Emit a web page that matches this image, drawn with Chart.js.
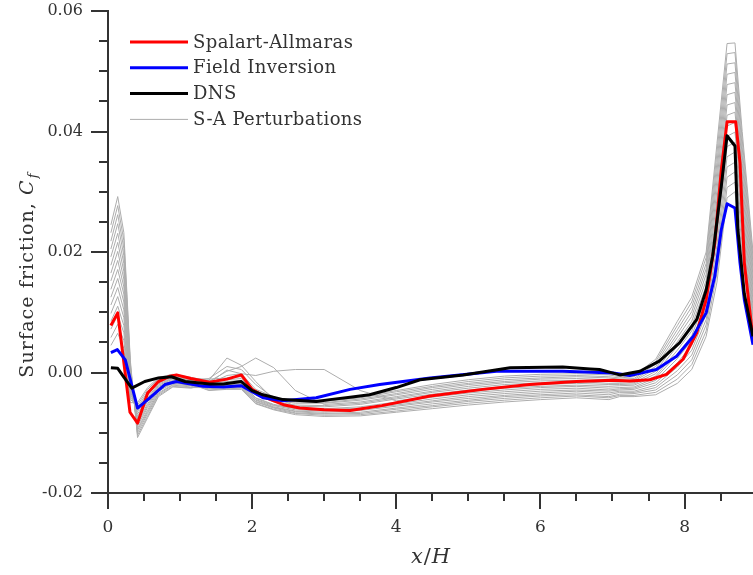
<!DOCTYPE html>
<html>
<head>
<meta charset="utf-8">
<script src="https://cdn.jsdelivr.net/npm/chart.js@4.4.1/dist/chart.umd.min.js"></script>
<style>
html,body{margin:0;padding:0;background:#fff;}
canvas{display:block;}
</style>
</head>
<body>
<canvas id="c" width="753" height="575" style="width:753px;height:575px"></canvas>
<script>
// ---------- tick values / labels ----------
const xMajorTicks = [0, 2, 4, 6, 8];
const xTickLabels = ['0', '2', '4', '6', '8'];
const xMinorTicks = [0.5, 1, 1.5, 2.5, 3, 3.5, 4.5, 5, 5.5, 6.5, 7, 7.5, 8.5];
const yMajorTicks = [-0.02, 0, 0.02, 0.04, 0.06];
const yTickLabels = ['-0.02', '0.00', '0.02', '0.04', '0.06'];
const yMinorTicks = [-0.015, -0.01, -0.005, 0.005, 0.01, 0.015, 0.025, 0.03, 0.035, 0.045, 0.05, 0.055];

// ---------- Spalart-Allmaras ----------
const saX = [0.04, 0.135, 0.305, 0.41, 0.55, 0.70, 0.86, 0.95, 1.15, 1.41, 1.65, 1.85, 2.0, 2.2, 2.45, 2.66, 3.0, 3.36, 3.8, 4.47, 5.2, 5.85, 6.5, 7.0, 7.24, 7.52, 7.75, 7.98, 8.17, 8.30, 8.42, 8.51, 8.59, 8.71, 8.77, 8.83, 8.95];
const saY = [0.0078, 0.0099, -0.0066, -0.0084, -0.0034, -0.0015, -0.0006, -0.0004, -0.0010, -0.0016, -0.0011, -0.0004, -0.0028, -0.0042, -0.0054, -0.0059, -0.0062, -0.0063, -0.0055, -0.0039, -0.0028, -0.0020, -0.0015, -0.0013, -0.0014, -0.0012, -0.0003, 0.0022, 0.0066, 0.0121, 0.0215, 0.0336, 0.0416, 0.0416, 0.0348, 0.0182, 0.0055];

// ---------- Field Inversion ----------
const fiX = [0.04, 0.13, 0.24, 0.41, 0.58, 0.79, 0.95, 1.32, 1.6, 1.85, 2.0, 2.15, 2.43, 2.89, 3.36, 3.77, 4.47, 5.39, 6.31, 6.82, 7.01, 7.24, 7.61, 7.89, 8.12, 8.30, 8.42, 8.51, 8.59, 8.70, 8.77, 8.83, 8.95];
const fiY = [0.0033, 0.0038, 0.0021, -0.0059, -0.0042, -0.0020, -0.0015, -0.0023, -0.0024, -0.0022, -0.0032, -0.0042, -0.0047, -0.0042, -0.0028, -0.0020, -0.0009, 0.0002, 0.0002, 0.0000, -0.0001, -0.0005, 0.0005, 0.0027, 0.0060, 0.0099, 0.0160, 0.0237, 0.0280, 0.0273, 0.0182, 0.0121, 0.0046];

// ---------- DNS ----------
const dnsX = [0.04, 0.135, 0.21, 0.33, 0.51, 0.70, 0.88, 1.07, 1.41, 1.6, 1.85, 2.0, 2.15, 2.43, 2.89, 3.08, 3.36, 3.63, 4.0, 4.33, 4.93, 5.58, 6.31, 6.69, 6.82, 7.01, 7.10, 7.38, 7.65, 7.93, 8.17, 8.30, 8.39, 8.51, 8.59, 8.70, 8.74, 8.83, 8.95];
const dnsY = [0.0008, 0.0007, -0.0006, -0.0026, -0.0015, -0.0009, -0.0007, -0.0015, -0.0019, -0.0019, -0.0015, -0.0030, -0.0037, -0.0045, -0.0048, -0.0045, -0.0041, -0.0037, -0.0025, -0.0012, -0.0004, 0.0008, 0.0009, 0.0006, 0.0005, -0.0001, -0.0004, 0.0002, 0.0019, 0.0049, 0.0088, 0.0137, 0.0193, 0.0309, 0.0393, 0.0376, 0.0237, 0.0130, 0.0060];

// ---------- S-A perturbations (shared x grid) ----------
const pertX = [0.04, 0.135, 0.22, 0.31, 0.41, 0.55, 0.7, 0.9, 1.15, 1.4, 1.65, 1.85, 2.05, 2.3, 2.6, 3.0, 3.5, 4.0, 4.5, 5.0, 5.5, 6.0, 6.5, 6.95, 7.1, 7.3, 7.6, 7.9, 8.1, 8.3, 8.45, 8.59, 8.70, 8.8, 8.95];
const pert01 = [0.0045, 0.0065, 0.0040, -0.0050, -0.0050, -0.0025, -0.0008, -0.0003, -0.0008, -0.0014, -0.0012, -0.0010, -0.0034, -0.0046, -0.0051, -0.0051, -0.0046, -0.0037, -0.0028, -0.0020, -0.0015, -0.0011, -0.0010, -0.0012, -0.0014, -0.0012, 0.0010, 0.0064, 0.0101, 0.0172, 0.0334, 0.0495, 0.0498, 0.0360, 0.0170];
const pert02 = [0.0058, 0.0080, 0.0053, -0.0045, -0.0054, -0.0028, -0.0010, -0.0004, -0.0009, -0.0021, -0.0019, -0.0017, -0.0042, -0.0053, -0.0059, -0.0060, -0.0057, -0.0049, -0.0041, -0.0034, -0.0029, -0.0025, -0.0023, -0.0026, -0.0025, -0.0024, -0.0009, 0.0030, 0.0061, 0.0125, 0.0257, 0.0409, 0.0415, 0.0293, 0.0120];
const pert03 = [0.0072, 0.0095, 0.0066, -0.0041, -0.0058, -0.0032, -0.0012, -0.0006, -0.0010, -0.0011, -0.0009, -0.0007, -0.0031, -0.0043, -0.0048, -0.0048, -0.0042, -0.0032, -0.0023, -0.0015, -0.0009, -0.0006, -0.0005, -0.0007, -0.0009, -0.0007, 0.0018, 0.0078, 0.0117, 0.0191, 0.0365, 0.0529, 0.0531, 0.0387, 0.0190];
const pert04 = [0.0085, 0.0110, 0.0078, -0.0036, -0.0062, -0.0035, -0.0014, -0.0007, -0.0012, -0.0026, -0.0024, -0.0023, -0.0048, -0.0058, -0.0065, -0.0068, -0.0066, -0.0059, -0.0052, -0.0046, -0.0040, -0.0037, -0.0034, -0.0037, -0.0033, -0.0033, -0.0025, 0.0003, 0.0029, 0.0088, 0.0196, 0.0341, 0.0349, 0.0240, 0.0080];
const pert05 = [0.0098, 0.0126, 0.0091, -0.0031, -0.0065, -0.0038, -0.0017, -0.0009, -0.0013, -0.0017, -0.0015, -0.0013, -0.0037, -0.0049, -0.0054, -0.0055, -0.0051, -0.0042, -0.0033, -0.0026, -0.0020, -0.0017, -0.0015, -0.0018, -0.0018, -0.0017, 0.0002, 0.0051, 0.0085, 0.0153, 0.0303, 0.0461, 0.0465, 0.0333, 0.0150];
const pert06 = [0.0112, 0.0141, 0.0104, -0.0027, -0.0069, -0.0042, -0.0019, -0.0010, -0.0014, -0.0029, -0.0027, -0.0026, -0.0051, -0.0061, -0.0068, -0.0071, -0.0070, -0.0064, -0.0057, -0.0051, -0.0046, -0.0042, -0.0039, -0.0042, -0.0038, -0.0038, -0.0033, -0.0011, 0.0013, 0.0069, 0.0165, 0.0307, 0.0316, 0.0213, 0.0060];
const pert07 = [0.0125, 0.0156, 0.0117, -0.0022, -0.0073, -0.0045, -0.0021, -0.0011, -0.0015, -0.0010, 0.0010, 0.0005, -0.0020, -0.0042, -0.0046, -0.0046, -0.0040, -0.0030, -0.0020, -0.0012, -0.0006, -0.0003, -0.0002, -0.0004, -0.0007, -0.0005, 0.0022, 0.0085, 0.0125, 0.0200, 0.0380, 0.0546, 0.0547, 0.0400, 0.0200];
const pert08 = [0.0138, 0.0171, 0.0130, -0.0017, -0.0077, -0.0048, -0.0023, -0.0013, -0.0016, -0.0023, -0.0021, -0.0020, -0.0045, -0.0055, -0.0062, -0.0064, -0.0061, -0.0054, -0.0047, -0.0040, -0.0035, -0.0031, -0.0029, -0.0031, -0.0029, -0.0028, -0.0017, 0.0016, 0.0045, 0.0107, 0.0227, 0.0375, 0.0382, 0.0267, 0.0100];
const pert09 = [0.0152, 0.0186, 0.0142, -0.0013, -0.0081, -0.0052, -0.0025, -0.0014, -0.0018, -0.0018, 0.0004, -0.0002, -0.0028, -0.0040, -0.0056, -0.0057, -0.0053, -0.0044, -0.0036, -0.0029, -0.0023, -0.0020, -0.0018, -0.0020, -0.0020, -0.0019, -0.0002, 0.0044, 0.0077, 0.0144, 0.0288, 0.0444, 0.0448, 0.0320, 0.0140];
const pert10 = [0.0165, 0.0201, 0.0155, -0.0008, -0.0085, -0.0055, -0.0027, -0.0016, -0.0019, -0.0030, -0.0028, -0.0028, -0.0052, -0.0062, -0.0070, -0.0073, -0.0072, -0.0066, -0.0060, -0.0054, -0.0049, -0.0045, -0.0042, -0.0045, -0.0040, -0.0040, -0.0037, -0.0018, 0.0005, 0.0060, 0.0150, 0.0290, 0.0300, 0.0200, 0.0050];
const pert11 = [0.0178, 0.0216, 0.0168, -0.0003, -0.0089, -0.0058, -0.0029, -0.0017, -0.0020, -0.0013, 0.0024, 0.0012, -0.0015, -0.0045, -0.0049, -0.0050, -0.0044, -0.0035, -0.0025, -0.0018, -0.0012, -0.0009, -0.0007, -0.0009, -0.0011, -0.0010, 0.0014, 0.0071, 0.0109, 0.0181, 0.0349, 0.0512, 0.0514, 0.0373, 0.0180];
const pert12 = [0.0192, 0.0231, 0.0181, 0.0001, -0.0093, -0.0062, -0.0031, -0.0018, -0.0021, -0.0022, -0.0020, -0.0019, -0.0043, -0.0054, -0.0060, -0.0062, -0.0059, -0.0052, -0.0044, -0.0037, -0.0032, -0.0028, -0.0026, -0.0029, -0.0027, -0.0026, -0.0013, 0.0023, 0.0053, 0.0116, 0.0242, 0.0392, 0.0399, 0.0280, 0.0110];
const pert13 = [0.0205, 0.0247, 0.0194, 0.0006, -0.0096, -0.0065, -0.0034, -0.0020, -0.0022, -0.0027, -0.0025, -0.0025, -0.0049, -0.0059, -0.0067, -0.0069, -0.0068, -0.0061, -0.0055, -0.0048, -0.0043, -0.0039, -0.0037, -0.0040, -0.0036, -0.0035, -0.0029, -0.0004, 0.0021, 0.0079, 0.0181, 0.0324, 0.0333, 0.0227, 0.0070];
const pert14 = [0.0218, 0.0262, 0.0206, 0.0011, -0.0100, -0.0068, -0.0036, -0.0021, -0.0024, -0.0015, 0.0002, 0.0010, 0.0024, 0.0008, -0.0030, -0.0053, -0.0049, -0.0040, -0.0031, -0.0023, -0.0017, -0.0014, -0.0013, -0.0015, -0.0016, -0.0014, 0.0006, 0.0058, 0.0093, 0.0163, 0.0319, 0.0478, 0.0481, 0.0347, 0.0160];
const pert15 = [0.0232, 0.0277, 0.0219, 0.0015, -0.0104, -0.0072, -0.0038, -0.0023, -0.0025, -0.0025, -0.0023, -0.0022, -0.0046, -0.0057, -0.0064, -0.0066, -0.0063, -0.0056, -0.0049, -0.0043, -0.0038, -0.0034, -0.0031, -0.0034, -0.0031, -0.0031, -0.0021, 0.0009, 0.0037, 0.0097, 0.0211, 0.0358, 0.0366, 0.0253, 0.0090];
const pert16 = [0.0245, 0.0292, 0.0232, 0.0020, -0.0108, -0.0075, -0.0040, -0.0024, -0.0026, -0.0019, -0.0005, -0.0002, -0.0005, 0.0002, 0.0005, 0.0005, -0.0030, -0.0047, -0.0039, -0.0032, -0.0026, -0.0023, -0.0021, -0.0023, -0.0022, -0.0021, -0.0006, 0.0037, 0.0069, 0.0135, 0.0273, 0.0427, 0.0432, 0.0307, 0.0130];
const perturbations = [pert01, pert02, pert03, pert04, pert05, pert06, pert07, pert08, pert09, pert10, pert11, pert12, pert13, pert14, pert15, pert16];

const seriesNames = ['Spalart-Allmaras', 'Field Inversion', 'DNS', 'S-A Perturbations'];
const axisFont = 'DejaVu Serif';
const textColor = '#333333';

function pts(xs, ys) { return xs.map((x, i) => ({ x: x, y: ys[i] })); }

const datasets = [];
datasets.push({ label: seriesNames[0], data: pts(saX, saY), borderColor: '#ff0000', borderWidth: 3, order: 2 });
datasets.push({ label: seriesNames[1], data: pts(fiX, fiY), borderColor: '#0000ff', borderWidth: 3, order: 1 });
datasets.push({ label: seriesNames[2], data: pts(dnsX, dnsY), borderColor: '#000000', borderWidth: 3, order: 0 });
perturbations.forEach((p, i) => {
  datasets.push({ label: seriesNames[3], data: pts(pertX, p), borderColor: '#adadad', borderWidth: 1, order: 10 });
});

const extras = {
  id: 'extras',
  afterDraw(chart) {
    const ctx = chart.ctx, xs = chart.scales.x, ys = chart.scales.y, ca = chart.chartArea;
    ctx.save();
    // major + minor ticks (outward)
    ctx.strokeStyle = textColor; ctx.lineWidth = 2;
    const tickX = (v, len) => { const p = Math.round(xs.getPixelForValue(v)); ctx.beginPath(); ctx.moveTo(p, ca.bottom); ctx.lineTo(p, ca.bottom + len); ctx.stroke(); };
    const tickY = (v, len) => { const p = Math.round(ys.getPixelForValue(v)); ctx.beginPath(); ctx.moveTo(ca.left, p); ctx.lineTo(ca.left - len, p); ctx.stroke(); };
    xMajorTicks.forEach(v => tickX(v, 16));
    xMinorTicks.forEach(v => tickX(v, 8));
    yMajorTicks.forEach(v => tickY(v, 17));
    yMinorTicks.forEach(v => tickY(v, 9));
    // legend
    const legendColors = ['#ff0000', '#0000ff', '#000000', '#adadad'];
    const legendWidths = [3, 3, 3, 1];
    ctx.font = '18px "' + axisFont + '"';
    try { ctx.letterSpacing = '0.4px'; } catch (e) {}
    ctx.textBaseline = 'middle';
    ctx.fillStyle = textColor;
    for (let i = 0; i < 4; i++) {
      const yy = 42 + i * 25.8;
      ctx.strokeStyle = legendColors[i]; ctx.lineWidth = legendWidths[i];
      ctx.beginPath(); ctx.moveTo(130, yy); ctx.lineTo(188, yy); ctx.stroke();
      ctx.fillText(seriesNames[i], 193, yy + 1);
    }
    // y-axis title
    try { ctx.letterSpacing = '1.1px'; } catch (e) {}
    ctx.textBaseline = 'alphabetic';
    const fN = '19px "' + axisFont + '"', fI = 'italic 19px "' + axisFont + '"', fS = 'italic 13px "' + axisFont + '"';
    const t1 = 'Surface friction, ', t2 = 'C', t3 = 'f';
    ctx.font = fN; const w1 = ctx.measureText(t1).width;
    ctx.font = fI; const w2 = ctx.measureText(t2).width;
    ctx.font = fS; const w3 = ctx.measureText(t3).width;
    const tot = w1 + w2 + w3 + 1;
    ctx.save();
    ctx.translate(33, 275);
    ctx.rotate(-Math.PI / 2);
    let sx = -tot / 2;
    ctx.font = fN; ctx.fillText(t1, sx, 0); sx += w1;
    ctx.font = fI; ctx.fillText(t2, sx, 0); sx += w2 + 1;
    ctx.font = fS; ctx.fillText(t3, sx, 4);
    ctx.restore();
    // x-axis title
    try { ctx.letterSpacing = '1px'; } catch (e) {}
    const fX = 'italic 21px "' + axisFont + '"', fXn = '21px "' + axisFont + '"';
    const a1 = 'x', a2 = '/', a3 = 'H';
    ctx.font = fX; const b1 = ctx.measureText(a1).width;
    ctx.font = fXn; const b2 = ctx.measureText(a2).width;
    ctx.font = fX; const b3 = ctx.measureText(a3).width;
    let px = 431 - (b1 + b2 + b3) / 2;
    ctx.font = fX; ctx.fillText(a1, px, 563); px += b1;
    ctx.font = fXn; ctx.fillText(a2, px, 563); px += b2;
    ctx.font = fX; ctx.fillText(a3, px, 563);
    ctx.restore();
  }
};

new Chart(document.getElementById('c').getContext('2d'), {
  type: 'line',
  data: { datasets: datasets },
  plugins: [extras],
  options: {
    responsive: false,
    animation: false,
    layout: { padding: { top: 11, left: 0, right: 0, bottom: 0 } },
    plugins: { legend: { display: false }, tooltip: { enabled: false } },
    elements: { point: { radius: 0 }, line: { tension: 0, borderJoinStyle: 'round' } },
    scales: {
      x: {
        type: 'linear', min: 0, max: 8.95,
        afterFit: s => { s.height = 82; },
        afterBuildTicks: s => { s.ticks = xMajorTicks.map(v => ({ value: v })); },
        ticks: { padding: 1, color: textColor, font: { family: axisFont, size: 17 }, maxRotation: 0, autoSkip: false,
                 callback: (v, i) => xTickLabels[i] },
        grid: { drawOnChartArea: false, drawTicks: true, tickLength: 23, tickColor: 'rgba(0,0,0,0)', color: 'rgba(0,0,0,0)' },
        border: { display: true, color: textColor, width: 2 }
      },
      y: {
        type: 'linear', min: -0.02, max: 0.06,
        afterFit: s => { s.width = 108; },
        afterBuildTicks: s => { s.ticks = yMajorTicks.map(v => ({ value: v })); },
        ticks: { padding: 1, color: textColor, font: { family: axisFont, size: 16 }, autoSkip: false,
                 callback: (v, i) => yTickLabels[i] },
        grid: { drawOnChartArea: false, drawTicks: true, tickLength: 24, tickColor: 'rgba(0,0,0,0)', color: 'rgba(0,0,0,0)' },
        border: { display: true, color: textColor, width: 2 }
      }
    }
  }
});
</script>
</body>
</html>
